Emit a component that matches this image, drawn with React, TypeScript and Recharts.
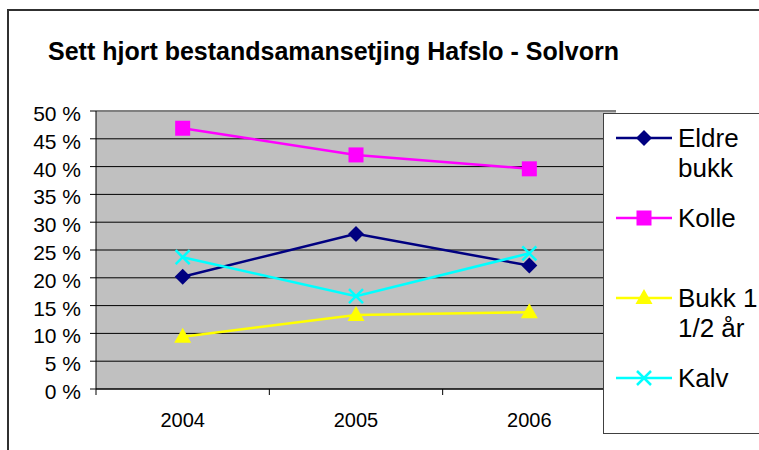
import { LineChart, Line, XAxis, YAxis, CartesianGrid, ReferenceLine } from 'recharts'

const years = ['2004', '2005', '2006']
const eldreBukk = [20.2, 27.9, 22.2]
const kolle = [46.9, 42.1, 39.6]
const bukk = [9.4, 13.3, 13.8]
const kalv = [23.7, 16.7, 24.4]
const yTicks = [0, 5, 10, 15, 20, 25, 30, 35, 40, 45, 50]

const SERIES = [
  { key: 'eldre', name: 'Eldre bukk', color: '#000080', shape: 'diamond', values: eldreBukk },
  { key: 'kolle', name: 'Kolle', color: '#FF00FF', shape: 'square', values: kolle },
  { key: 'bukk', name: 'Bukk 1 1/2 år', color: '#FFFF00', shape: 'triangle', values: bukk },
  { key: 'kalv', name: 'Kalv', color: '#00FFFF', shape: 'cross', values: kalv },
]

const data = years.map((year, i) => {
  const row: Record<string, string | number> = { year }
  for (const s of SERIES) row[s.key] = s.values[i]
  return row
})

const FONT = '"Liberation Sans", Arial, Helvetica, sans-serif'
const W = 759
const H = 450
const PLOT_LEFT = 96
const PLOT_TOP = 111
const PLOT_RIGHT = 616
const PLOT_BOTTOM = 389
const BAND = (PLOT_RIGHT - PLOT_LEFT) / years.length

function Marker({ shape, cx, cy, color }: { shape: string; cx: number; cy: number; color: string }) {
  if (shape === 'diamond') {
    return <polygon points={`${cx},${cy - 8} ${cx + 8},${cy} ${cx},${cy + 8} ${cx - 8},${cy}`} fill={color} />
  }
  if (shape === 'square') {
    return <rect x={cx - 7.5} y={cy - 7.5} width={15} height={15} fill={color} />
  }
  if (shape === 'triangle') {
    return <polygon points={`${cx},${cy - 9} ${cx + 8.5},${cy + 6} ${cx - 8.5},${cy + 6}`} fill={color} />
  }
  return (
    <g stroke={color} strokeWidth={2.5}>
      <line x1={cx - 7} y1={cy - 7} x2={cx + 7} y2={cy + 7} />
      <line x1={cx - 7} y1={cy + 7} x2={cx + 7} y2={cy - 7} />
    </g>
  )
}

function YearTick(props: any) {
  const { x, y, payload } = props
  const bx = x - BAND / 2
  return (
    <g>
      <line x1={bx} x2={bx} y1={PLOT_BOTTOM} y2={PLOT_BOTTOM + 6} stroke="#000" />
      <text x={x} y={y} dy="0.71em" textAnchor="middle" fontSize={20} fontFamily={FONT} fill="#000">
        {payload.value}
      </text>
    </g>
  )
}

function PercentTick(props: any) {
  const { x, y, payload } = props
  return (
    <text x={x + 1} y={y + 2.5} dy="0.355em" textAnchor="end" fontSize={21} fontFamily={FONT} fill="#000">
      {`${payload.value} %`}
    </text>
  )
}

function LegendBox() {
  return (
    <div
      style={{
        position: 'absolute',
        left: 603,
        top: 113,
        width: 200,
        height: 321,
        background: '#fff',
        border: '1px solid #404040',
        boxSizing: 'border-box',
        paddingTop: 9,
        paddingLeft: 12,
        fontFamily: FONT,
        fontSize: 26,
        lineHeight: '30px',
      }}
    >
      {SERIES.map((s) => (
        <div key={s.key} style={{ display: 'flex', alignItems: 'flex-start', height: 80 }}>
          <svg width={56} height={30} style={{ flexShrink: 0 }}>
            <line x1={0} x2={56} y1={15} y2={15} stroke={s.color} strokeWidth={2.5} />
            <Marker shape={s.shape} cx={28} cy={15} color={s.color} />
          </svg>
          <div style={{ marginLeft: 6, width: 100 }}>{s.name}</div>
        </div>
      ))}
    </div>
  )
}

export default function App() {
  return (
    <div
      style={{
        position: 'fixed',
        left: 0,
        top: 0,
        width: W,
        height: H,
        overflow: 'hidden',
        background: '#fff',
      }}
    >
      {/* outer chart frame, cut off at the right and bottom */}
      <div
        style={{
          position: 'absolute',
          left: 7,
          top: 9,
          width: 820,
          height: 500,
          border: '2px solid #303030',
        }}
      />
      <div
        style={{
          position: 'absolute',
          left: 48,
          top: 39,
          fontFamily: FONT,
          fontWeight: 'bold',
          fontSize: 25,
          lineHeight: '25px',
          whiteSpace: 'nowrap',
        }}
      >
        Sett hjort bestandsamansetjing Hafslo - Solvorn
      </div>
      <div style={{ position: 'absolute', left: 0, top: 0 }}>
        <LineChart
          width={W}
          height={H}
          data={data}
          margin={{ top: PLOT_TOP, right: W - PLOT_RIGHT, bottom: H - PLOT_BOTTOM - 50, left: PLOT_LEFT - 90 }}
        >
          <CartesianGrid vertical={false} stroke="#000" fill="#C0C0C0" fillOpacity={1} />
          <XAxis
            dataKey="year"
            height={50}
            interval={0}
            padding={{ left: BAND / 2, right: BAND / 2 }}
            axisLine={{ stroke: '#000' }}
            tickLine={false}
            tickMargin={18}
            tick={<YearTick />}
          />
          <YAxis
            width={90}
            domain={[0, 50]}
            ticks={yTicks}
            interval={0}
            axisLine={{ stroke: '#000' }}
            tickLine={{ stroke: '#000' }}
            tickSize={6}
            tickMargin={10}
            tick={<PercentTick />}
          />
          <ReferenceLine y={50} stroke="#808080" strokeWidth={2} />
          {SERIES.map((s) => (
            <Line
              key={s.key}
              dataKey={s.key}
              name={s.name}
              stroke={s.color}
              strokeWidth={2.5}
              isAnimationActive={false}
              dot={(p: any) => <Marker key={`${s.key}-${p.index}`} shape={s.shape} cx={p.cx} cy={p.cy} color={s.color} />}
              activeDot={false}
            />
          ))}
        </LineChart>
      </div>
      <LegendBox />
    </div>
  )
}
